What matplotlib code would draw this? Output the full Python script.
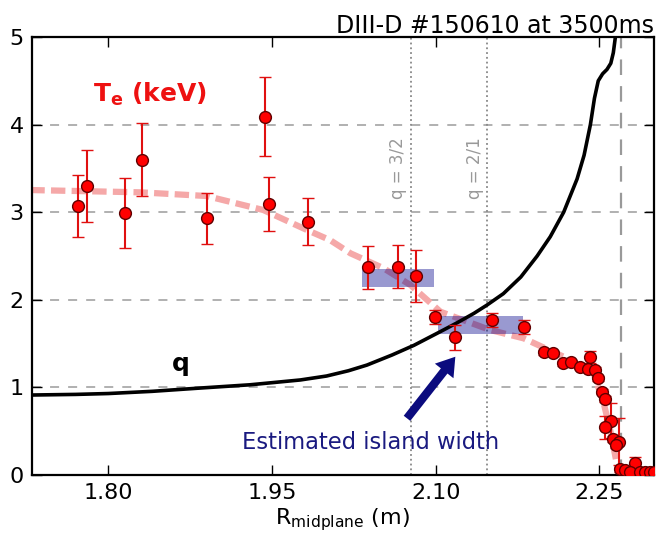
import matplotlib
matplotlib.use("Agg")
import matplotlib.pyplot as plt
import numpy as np

# Te measurements (R in m, Te in keV, error in keV)
r_te = [1.772, 1.780, 1.815, 1.831, 1.8905, 1.944, 1.947, 1.983,
        2.0376, 2.0659, 2.082, 2.0997, 2.1177, 2.1517, 2.1806,
        2.199, 2.2076, 2.2167, 2.224, 2.232, 2.2393, 2.2418, 2.2463,
        2.2485, 2.2525, 2.2555, 2.261, 2.2555, 2.2622, 2.2677, 2.2653,
        2.2686, 2.2738, 2.283, 2.278, 2.2875, 2.292, 2.296, 2.300]
te = [3.07, 3.30, 2.99, 3.60, 2.93, 4.09, 3.09, 2.89,
      2.37, 2.38, 2.27, 1.80, 1.57, 1.77, 1.69,
      1.40, 1.39, 1.275, 1.287, 1.237, 1.21, 1.344, 1.20,
      1.104, 0.951, 0.868, 0.62, 0.545, 0.41, 0.38, 0.343,
      0.065, 0.057, 0.14, 0.03, 0.03, 0.03, 0.03, 0.03]
te_err = [0.35, 0.41, 0.40, 0.42, 0.29, 0.45, 0.31, 0.27,
          0.245, 0.245, 0.295, 0.08, 0.14, 0.08, 0.08,
          0.03, 0.03, 0.03, 0.03, 0.03, 0.03, 0.07, 0.03,
          0.03, 0.03, 0.03, 0.20, 0.13, 0.03, 0.27, 0.03,
          0.03, 0.03, 0.07, 0.02, 0.02, 0.02, 0.02, 0.02]

# Te fit profile
r_fit = [1.7285, 1.829, 1.890, 1.942, 1.982, 2.0034, 2.022, 2.0523, 2.0768,
         2.1043, 2.15, 2.1806, 2.2173, 2.2448, 2.254, 2.26, 2.2647, 2.268]
te_fit = [3.253, 3.227, 3.185, 3.025, 2.797, 2.68, 2.53, 2.36, 2.169,
          1.864, 1.655, 1.56, 1.35, 1.16, 0.82, 0.51, 0.21, 0.0]

# safety factor profile
r_q = [1.73, 1.77, 1.80, 1.84, 1.881, 1.93, 1.976, 2.0, 2.02, 2.037,
       2.06, 2.08, 2.104, 2.12, 2.135, 2.147, 2.162, 2.178, 2.193, 2.205,
       2.2173, 2.2296, 2.236, 2.2418, 2.2455, 2.249, 2.253, 2.257,
       2.2605, 2.2628, 2.2647]
q = [0.913, 0.92, 0.93, 0.955, 0.99, 1.03, 1.085, 1.13, 1.19, 1.255,
     1.37, 1.48, 1.635, 1.74, 1.845, 1.94, 2.07, 2.26, 2.50, 2.72,
     3.0, 3.38, 3.65, 4.0, 4.30, 4.50, 4.58, 4.63,
     4.70, 4.82, 5.0]

r_q32 = 2.0777
r_q21 = 2.1473
r_sep = 2.2702

# island width boxes: (R start, R end, Te center)
islands = [(2.0325, 2.0981, 2.245), (2.1018, 2.180, 1.712)]
island_h = 0.205

fig = plt.figure(figsize=(6.56, 5.41), dpi=100)
ax = fig.add_axes([0.0488, 0.122, 0.948, 0.8096])

for yy in [1, 2, 3, 4]:
    ax.axhline(yy, color='#aaaaaa', lw=1.3, dashes=(5, 5), zorder=1)

ax.axvline(r_q32, color='#888888', lw=1.3, ls=':', zorder=1)
ax.axvline(r_q21, color='#888888', lw=1.3, ls=':', zorder=1)
ax.axvline(r_sep, color='#999999', lw=1.6, dashes=(7, 5), zorder=1)

ax.text(r_q32 - 0.012, 3.5, 'q = 3/2', rotation=90, color='#999999',
        fontsize=12, ha='center', va='center')
ax.text(r_q21 - 0.011, 3.5, 'q = 2/1', rotation=90, color='#999999',
        fontsize=12, ha='center', va='center')

ax.plot(r_fit, te_fit, color='#f5a8a8', lw=4.5, dashes=(2.3, 1), zorder=2)

for r0, r1, yc in islands:
    ax.add_patch(plt.Rectangle((r0, yc - island_h/2), r1 - r0, island_h,
                               facecolor='#00008b', alpha=0.40, lw=0, zorder=3))

ax.plot(r_q, q, color='black', lw=2.6, zorder=4, solid_joinstyle='round')

ax.errorbar(r_te, te, yerr=te_err, fmt='o', color='#e01010', ecolor='#e01010',
            mfc='red', mec='#600000', mew=1, ms=8.5, capsize=4, elinewidth=1.5,
            capthick=1.2, zorder=5, clip_on=True)

ax.annotate('', xy=(2.118, 1.35), xytext=(2.0737, 0.647),
            arrowprops=dict(width=6, headwidth=17, headlength=13,
                            color='#0b0b7e', lw=0))
ax.text(2.0406, 0.293, 'Estimated island width', color='#1a1a80',
        fontsize=16.3, ha='center', va='baseline')

ax.text(1.866, 1.19, 'q', fontsize=18, fontweight='bold', ha='center',
        va='baseline')
ax.text(1.786, 4.26, r'T$_{\mathbf{e}}$ (keV)', color='#ee1111', fontsize=18,
        fontweight='bold', ha='left', va='baseline')

ax.set_xlim(1.73, 2.30)
ax.set_ylim(0, 5)
ax.set_xticks([1.80, 1.95, 2.10, 2.25])
ax.set_xticklabels(['1.80', '1.95', '2.10', '2.25'])
ax.set_yticks([0, 1, 2, 3, 4, 5])
ax.tick_params(direction='in', top=True, right=True, length=7, width=1,
               labelsize=16, pad=6)
for s in ax.spines.values():
    s.set_linewidth(1.6)

ax.set_xlabel(r'R$_{\mathrm{midplane}}$ (m)', fontsize=16, labelpad=2)
ax.set_title('DIII-D #150610 at 3500ms', loc='right', fontsize=17, pad=3)

fig.savefig('out.png', dpi=100)
